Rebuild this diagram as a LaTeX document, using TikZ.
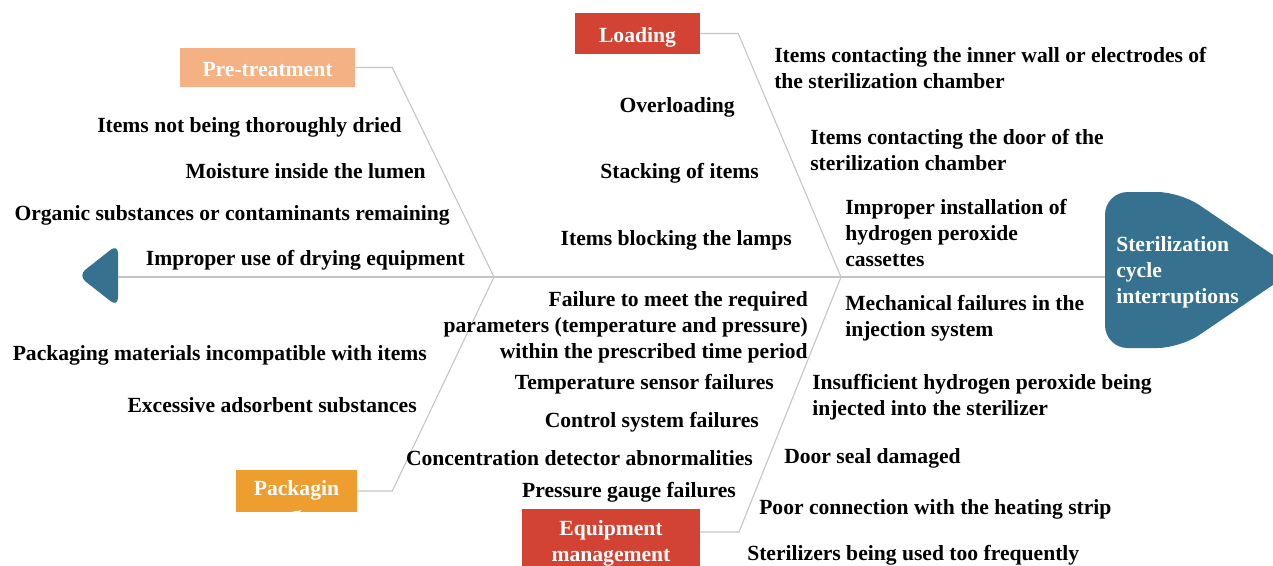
\documentclass[tikz,border=0pt]{standalone}
\usepackage{fontspec}
\setmainfont{Liberation Serif}
\definecolor{prec}{HTML}{F4B183}
\definecolor{redc}{HTML}{D24333}
\definecolor{pkgc}{HTML}{EE9E2F}
\definecolor{fishc}{HTML}{36728F}
\definecolor{bonec}{HTML}{C4C4C4}
\tikzset{
  cause/.style={inner sep=0pt, font=\fontsize{16.2pt}{19.5pt}\selectfont\bfseries, text=black, yshift=-1.5pt},
  causeL/.style={cause, anchor=east, align=right},
  causeR/.style={cause, anchor=west, align=left},
  catbox/.style={inner sep=0pt, font=\fontsize{16.2pt}{19.5pt}\selectfont\bfseries, text=white, align=center},
  onebox/.style={catbox, text height=13pt, text depth=0pt},
  bone/.style={draw=bonec, line width=0.8pt},
}
\begin{document}
\begin{tikzpicture}[x=0.75pt,y=-0.75pt]
\path[use as bounding box, clip] (0,0) rectangle (1273,565);

% spine, head and tail
\fill[fishc, rounded corners=7pt] (118,276) -- (118,307) -- (78,275.5) -- (118,244) -- cycle;
\fill[fishc, rounded corners=17pt] (1105,270) -- (1105,192) -- (1180,192) -- (1295,270) -- (1180,348) -- (1105,348) -- cycle;
\coordinate (tailpt) at (118,277);
\coordinate (headpt) at (1105,277);
\coordinate (jL) at (494,277);
\coordinate (jR) at (841,277);
\draw[bone] (tailpt) -- (headpt);

\node[catbox, anchor=west, yshift=-1pt] (head) at (1116,271) {\begin{tabular}{@{}l@{}}Sterilization\\ cycle\\ interruptions\end{tabular}};

% category boxes
\node[onebox, fill=prec, minimum width=175*0.75pt, minimum height=39*0.75pt] (pre) at (267.5,67.5) {Pre-treatment};
\node[onebox, fill=redc, minimum width=125*0.75pt, minimum height=41*0.75pt] (load) at (637.5,33.5) {Loading};
\node[catbox, fill=pkgc, minimum width=121*0.75pt, minimum height=42*0.75pt] (pkg) at (296.5,491) {};
\begin{scope}
\clip (pkg.south west) rectangle (pkg.north east);
\node[catbox] (pkgtext) at (296.5,503.5) {Packagin\\g};
\end{scope}
\node[catbox, fill=redc, minimum width=178*0.75pt, minimum height=68*0.75pt] (equip) at (611,543) {Equipment\\management};

% bones
\draw[bone] (pre.east) -- ++(37,0) -- (jL);
\draw[bone] (pkg.east) -- ++(35,0) -- (jL);
\draw[bone] (load.east) -- ++(38,0) -- (jR);
\draw[bone] (equip.east |- 0,532) -- (739,532) -- (jR);

% pre-treatment causes
\node[causeL] (p1) at (402,125) {Items not being thoroughly dried};
\node[causeL] (p2) at (426,169) {Moisture inside the lumen};
\node[causeL] (p3) at (450,213) {Organic substances or contaminants remaining};
\node[causeL] (p4) at (465,258) {Improper use of drying equipment};

% packaging causes
\node[causeL] (k1) at (427,353) {Packaging materials incompatible with items};
\node[causeL] (k2) at (417,403) {Excessive adsorbent substances};

% loading causes
\node[causeL] (l1) at (735,105) {Overloading};
\node[causeL] (l2) at (759,171) {Stacking of items};
\node[causeL] (l3) at (792,238) {Items blocking the lamps};
\node[causeR] (l4) at (774,66) {Items contacting the inner wall or electrodes of\\the sterilization chamber};
\node[causeR] (l5) at (810,147.5) {Items contacting the door of the\\sterilization chamber};
\node[causeR] (l6) at (845,231) {Improper installation of\\hydrogen peroxide\\cassettes};

% equipment causes
\node[causeL] (e1) at (808,325.5) {Failure to meet the required\\parameters (temperature and pressure)\\within the prescribed time period};
\node[causeL] (e2) at (774,382) {Temperature sensor failures};
\node[causeL] (e3) at (759,420) {Control system failures};
\node[causeL] (e4) at (753,456) {Concentration detector abnormalities};
\node[causeL] (e5) at (736,490) {Pressure gauge failures};
\node[causeR] (e6) at (845,316.5) {Mechanical failures in the\\injection system};
\node[causeR] (e7) at (812,395) {Insufficient hydrogen peroxide being\\injected into the sterilizer};
\node[causeR] (e8) at (784,456) {Door seal damaged};
\node[causeR] (e9) at (759,507) {Poor connection with the heating strip};
\node[causeR] (e10) at (747,553) {Sterilizers being used too frequently};
\end{tikzpicture}
\end{document}
